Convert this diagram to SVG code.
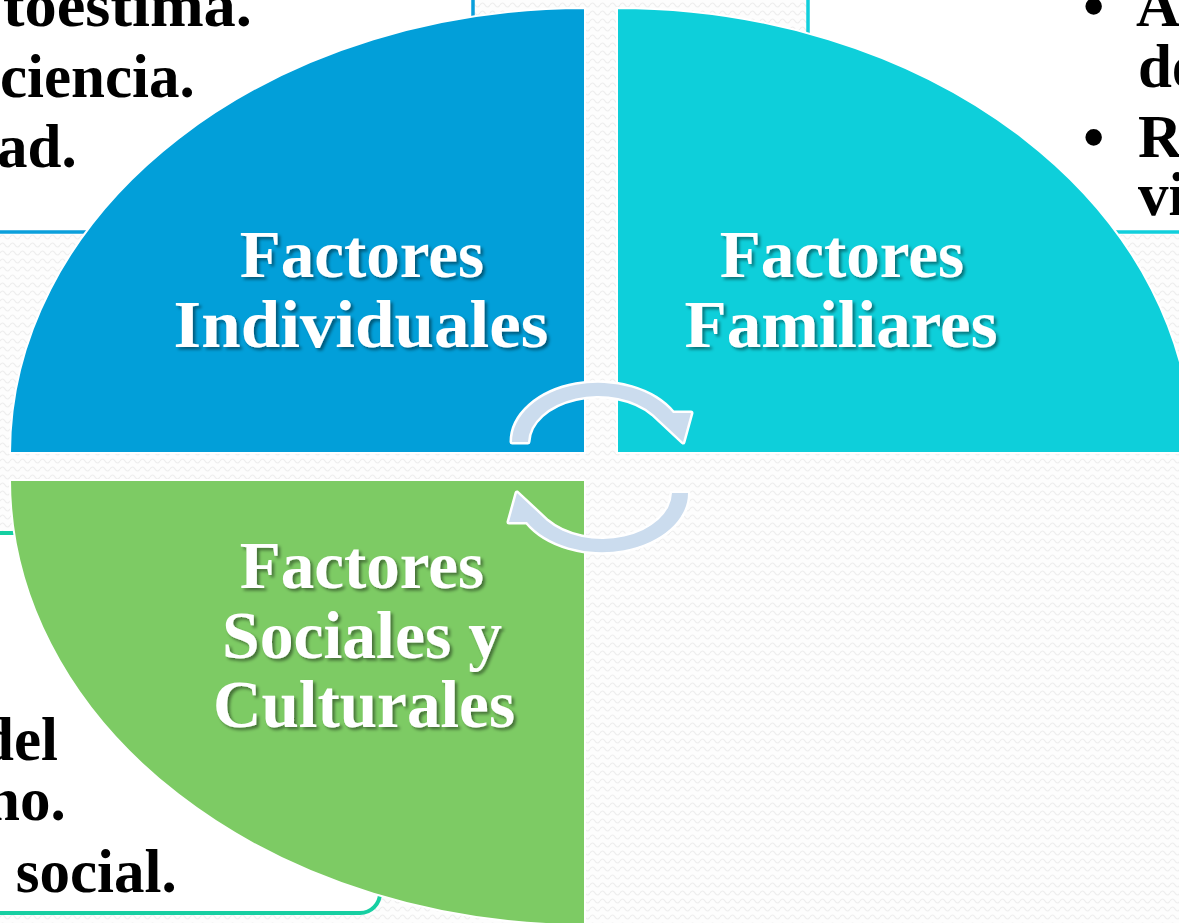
<svg xmlns="http://www.w3.org/2000/svg" width="1179" height="923" viewBox="0 0 1179 923">
  <defs>
    <pattern id="bg" width="10" height="8" patternUnits="userSpaceOnUse">
      <rect width="10" height="8" fill="#fdfdfd"/>
      <path d="M0 5 Q2.5 1 5 5 T10 5" stroke="#eeeeee" fill="none" stroke-width="1.2"/>
    </pattern>
    <filter id="shadow" x="-10%" y="-20%" width="120%" height="140%">
      <feDropShadow dx="2.5" dy="2.5" stdDeviation="1.5" flood-color="#000" flood-opacity="0.45"/>
    </filter>
  </defs>
  <style>
    .box { fill: #ffffff; }
    .body { font-family: "Liberation Serif", "Times New Roman", serif; font-weight: bold; font-size: 61px; fill: #000000; }
    .title { font-family: "Liberation Serif", "Times New Roman", serif; font-weight: bold; font-size: 67px; fill: #ffffff; text-anchor: middle; filter: url(#shadow); }
    .quarter { stroke: #ffffff; stroke-width: 2; }
    .arrow { fill: #cbdcee; stroke: #ffffff; stroke-width: 5; paint-order: stroke; stroke-linejoin: round; }
  </style>

  <rect x="0" y="0" width="1179" height="923" fill="url(#bg)"/>

  <!-- text boxes behind -->
  <g id="box-individual">
    <rect class="box" x="-20" y="-20" width="493" height="252" rx="16" stroke="#0a9fdb" stroke-width="3.5"/>
    <text class="body" x="3" y="26" textLength="249" lengthAdjust="spacingAndGlyphs">toestima.</text>
    <text class="body" x="0" y="97">ciencia.</text>
    <text class="body" x="-3" y="167">ad.</text>
  </g>
  <g id="box-familiar">
    <rect class="box" x="808" y="-20" width="420" height="252" rx="16" stroke="#10cfdc" stroke-width="3.5"/>
    <text class="body" x="1083" y="27">•</text>
    <text class="body" x="1136" y="26">A</text>
    <text class="body" x="1138" y="87">de</text>
    <text class="body" x="1083" y="158">•</text>
    <text class="body" x="1138" y="157">Re</text>
    <text class="body" x="1138" y="215">vi</text>
  </g>
  <g id="box-social">
    <rect class="box" x="-20" y="533" width="400" height="380" rx="20" stroke="#16cfa2" stroke-width="4"/>
    <text class="body" x="-20" y="760">del</text>
    <text class="body" x="-14" y="820">no.</text>
    <text class="body" x="-30" y="892">a social.</text>
  </g>

  <!-- quarters -->
  <g id="node-individuales">
    <path class="quarter" d="M585 453 L10 453 A575 445 0 0 1 585 8 Z" fill="#029fd9"/>
    <text class="title" x="362" y="277">Factores</text>
    <text class="title" x="361" y="347" textLength="375" lengthAdjust="spacingAndGlyphs">Individuales</text>
  </g>
  <g id="node-familiares">
    <path class="quarter" d="M617 453 L617 8 A575 445 0 0 1 1192 453 Z" fill="#0ecfda"/>
    <text class="title" x="842" y="277">Factores</text>
    <text class="title" x="841" y="347" textLength="313" lengthAdjust="spacingAndGlyphs">Familiares</text>
  </g>
  <g id="node-sociales">
    <path class="quarter" d="M585 480 L585 925 A575 445 0 0 1 10 480 Z" fill="#7dcb64"/>
    <text class="title" x="362" y="588">Factores</text>
    <text class="title" x="362" y="658" textLength="280" lengthAdjust="spacingAndGlyphs">Sociales y</text>
    <text class="title" x="364" y="727" textLength="302" lengthAdjust="spacingAndGlyphs">Culturales</text>
  </g>

  <!-- connectors -->
  <g id="connectors">
    <path class="arrow" d="M512 442 A86 59 0 0 1 673 413 L691 413 L683 442 L653 414 A70 47 0 0 0 528 442 Z"/>
    <path class="arrow" transform="rotate(180 600 467.5)" d="M512 442 A86 59 0 0 1 673 413 L691 413 L683 442 L653 414 A70 47 0 0 0 528 442 Z"/>
  </g>
</svg>
